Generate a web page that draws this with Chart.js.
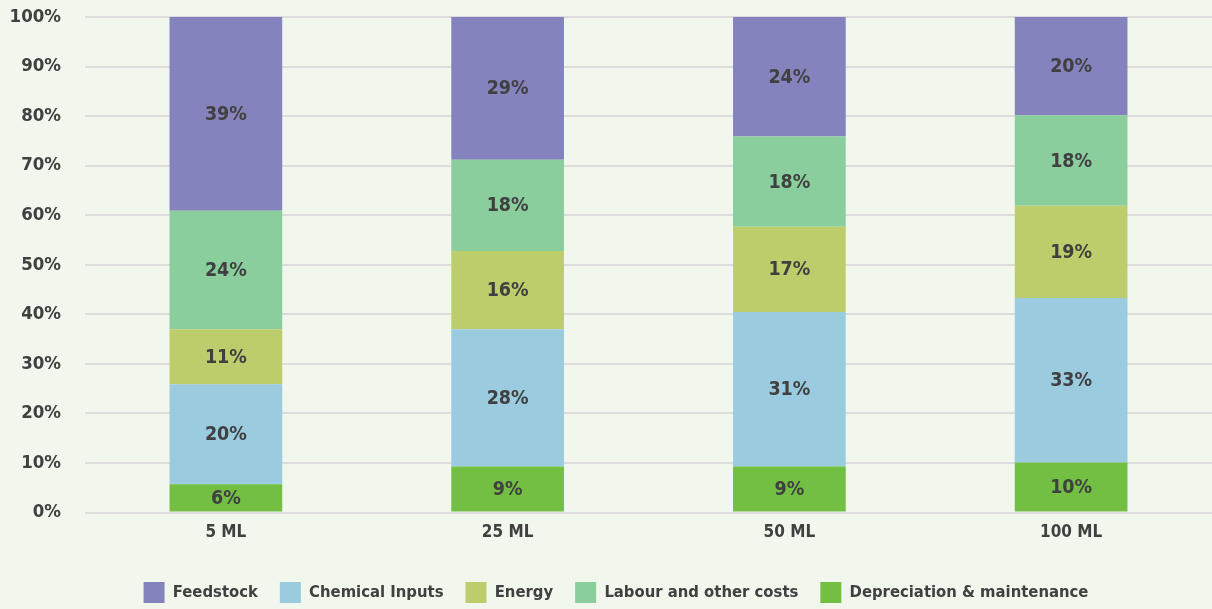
<!DOCTYPE html>
<html>
<head>
<meta charset="utf-8">
<script src="https://cdn.jsdelivr.net/npm/chart.js@4"></script>
<style>
  html, body { margin: 0; padding: 0; background: #F2F7EE; }
  #wrap { width: 1212px; height: 609px; }
</style>
</head>
<body>
<div id="wrap"><canvas id="chart"></canvas></div>
<script>
// capacity categories and cost shares (% of total)
const categories   = ['5 ML', '25 ML', '50 ML', '100 ML'];
const depreciation = [5.7, 9.3, 9.3, 10.1];
const chemical     = [20.2, 27.7, 31.2, 33.2];
const energy       = [11.1, 15.8, 17.2, 18.6];
const labour       = [23.9, 18.4, 18.2, 18.3];
const feedstock    = [39.1, 28.8, 24.1, 19.8];
const yTicks       = [0, 10, 20, 30, 40, 50, 60, 70, 80, 90, 100];

// legend order differs from stacking order
const legendOrder = ['Feedstock', 'Chemical Inputs', 'Energy', 'Labour and other costs', 'Depreciation & maintenance'];

const FONT = '"DejaVu Sans Condensed", "Liberation Sans Narrow", sans-serif';
const TEXT = '#404040';

/* ----------------------------------------------------------
   Value labels centred in each segment
   ---------------------------------------------------------- */
const segmentLabels = {
  id: 'segmentLabels',
  afterLayout(chart) {
    // legend sits a little right of centre in the original
    chart.legend.left += 10;
    chart.legend.right += 10;
  },
  afterDatasetsDraw(chart) {
    const ctx = chart.ctx;
    ctx.save();
    ctx.font = `bold 19.5px ${FONT}`;
    ctx.fillStyle = TEXT;
    ctx.textAlign = 'center';
    ctx.textBaseline = 'middle';
    chart.data.datasets.forEach((ds, i) => {
      chart.getDatasetMeta(i).data.forEach((bar, j) => {
        const p = bar.getProps(['x', 'y', 'base'], true);
        ctx.fillText(Math.round(ds.data[j]) + '%', p.x, (p.y + p.base) / 2 + 1);
      });
    });
    ctx.restore();
  }
};

const chart = new Chart(document.getElementById('chart'), {
  type: 'bar',
  data: {
    labels: categories,
    datasets: [
      { label: 'Depreciation & maintenance', data: depreciation, backgroundColor: '#72BF44' },
      { label: 'Chemical Inputs',            data: chemical,     backgroundColor: '#9ACBDF' },
      { label: 'Energy',                     data: energy,       backgroundColor: '#BECD6B' },
      { label: 'Labour and other costs',     data: labour,       backgroundColor: '#8ACE9D' },
      { label: 'Feedstock',                  data: feedstock,    backgroundColor: '#8583BD' },
    ],
  },
  options: {
    responsive: true,
    maintainAspectRatio: false,
    animation: false,
    datasets: { bar: { barPercentage: 0.4, categoryPercentage: 1.0 } },
    layout: { padding: { top: 17, right: 0, left: 0, bottom: -4 } },
    plugins: {
      legend: {
        display: true,
        position: 'bottom',
        labels: {
          font: { family: FONT, size: 16.5, weight: 'bold' },
          color: TEXT,
          boxWidth: 21,
          boxHeight: 21,
          padding: 22,
          sort: (a, b) => legendOrder.indexOf(a.text) - legendOrder.indexOf(b.text),
        },
      },
      tooltip: { enabled: false },
    },
    scales: {
      x: {
        stacked: true,
        grid: { display: false, drawTicks: false },
        border: { display: false },
        ticks: { font: { family: FONT, size: 17, weight: 'bold' }, color: TEXT, padding: 10 },
        afterFit: axis => { axis.height += 7; },
      },
      y: {
        stacked: true,
        min: 0,
        max: 100,
        afterBuildTicks: axis => { axis.ticks = yTicks.map(v => ({ value: v })); },
        afterFit: axis => { axis.width = 85; axis.paddingTop = 0; axis.paddingBottom = 0; },
        grid: { color: '#DCDCDC', lineWidth: 2, drawTicks: false },
        border: { display: false },
        ticks: {
          font: { family: FONT, size: 18.5, weight: 'bold' },
          color: TEXT,
          padding: 24,
          callback: v => v + '%',
        },
      },
    },
  },
  plugins: [segmentLabels],
});
</script>
</body>
</html>
